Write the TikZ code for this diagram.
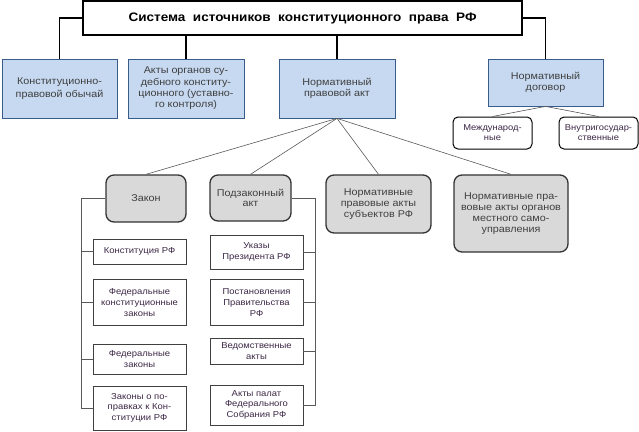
\documentclass[tikz,border=0pt]{standalone}
\usepackage{fontspec}
\setmainfont[FakeStretch=1.1]{Liberation Sans}
\usepackage{tikz}
\usetikzlibrary{positioning}
\definecolor{boxblue}{RGB}{198,217,241}
\definecolor{borderblue}{RGB}{56,93,138}
\definecolor{boxgrey}{RGB}{217,217,217}
\definecolor{textgrey}{RGB}{64,64,64}
\definecolor{textdark}{RGB}{60,40,70}
\definecolor{linegrey}{RGB}{89,89,89}
\tikzstyle{titlebox} = [rectangle, minimum width=439pt, minimum height=34pt, text centered, draw=black, line width=2.2pt, fill=white, font=\fontsize{12.3}{14}\selectfont\bfseries]
\tikzstyle{kind} = [rectangle, minimum height=59pt, align=center, draw=borderblue, fill=boxblue, text=textgrey, line width=0.8pt, font=\fontsize{9.8}{11.3}\selectfont]
\tikzstyle{group} = [rectangle, rounded corners=8pt, align=center, draw=black!80, fill=boxgrey, text=textgrey, line width=1.3pt, font=\fontsize{9.8}{10.8}\selectfont]
\tikzstyle{treaty} = [rectangle, rounded corners=5pt, minimum width=79pt, minimum height=32pt, align=center, draw=black, fill=white, text=textdark, line width=1pt, inner sep=2pt, font=\fontsize{8.5}{10}\selectfont]
\tikzstyle{act} = [rectangle, minimum width=93pt, align=center, draw=textgrey, fill=white, text=textdark, line width=0.6pt, inner sep=2pt, font=\fontsize{8.6}{10.8}\selectfont]
\tikzstyle{trunk} = [draw=black, line width=1.6pt]
\tikzstyle{branch} = [draw=linegrey, line width=0.6pt]
\tikzset{
  font={\fontsize{9}{10.5}\selectfont}}

\begin{document}
\begin{tikzpicture}[x=1pt, y=-1pt]
    \useasboundingbox (0,0) rectangle (639,431);

    \node (title) [titlebox] at (302.5,18) {Система~ источников~ конституционного~ права~ РФ};

    \node (obychai) [kind, minimum width=115pt, font=\fontsize{9.8}{13}\selectfont] at (59.5,88.5) {Конституционно-\\правовой обычай};
    \node (sudakty) [kind, minimum width=116pt] at (186,88.5) {Акты органов су-\\дебного конститу-\\ционного (уставно-\\го контроля)};
    \node (npa) [kind, minimum width=116pt] at (337,88.5) {Нормативный\\правовой акт};
    \node (dogovor) [kind, minimum width=115pt, minimum height=47pt] at (545.5,82.5) {Нормативный\\договор};

    \node (mezhd) [treaty] at (492.5,133) {Международ-\\ные};
    \node (vnutri) [treaty] at (598.5,133) {Внутригосудар-\\ственные};

    \node (zakon) [group, minimum width=80pt, minimum height=47pt] at (146,198.5) {Закон};
    \node (podzakon) [group, minimum width=81pt, minimum height=46pt] at (250.5,198) {Подзаконный\\акт};
    \node (subekty) [group, minimum width=105pt, minimum height=58pt] at (378.5,204) {Нормативные\\правовые акты\\субъектов РФ};
    \node (mestnye) [group, minimum width=114pt, minimum height=77pt] at (511,213.5) {Нормативные пра-\\вовые акты органов\\местного само-\\управления};

    % children of Закон
    \node (konst) [act, minimum height=25pt] at (139.5,251.5) {Конституция РФ};
    \node (fkz) [act, minimum height=46pt, below=15pt of konst] {Федеральные\\конституционные\\законы};
    \node (fz) [act, minimum height=30pt, below=18pt of fkz] {Федеральные\\законы};
    \node (popravki) [act, minimum height=44pt, below=11pt of fz] {Законы о по-\\правках к Кон-\\ституции РФ};

    % children of Подзаконный акт
    \node (ukazy) [act, minimum height=34pt] at (256.5,252) {Указы\\Президента РФ};
    \node (postan) [act, minimum height=46pt, below=10pt of ukazy] {Постановления\\Правительства\\РФ};
    \node (vedom) [act, minimum height=26pt, below=12pt of postan] {Ведомственные\\акты};
    \node (palaty) [act, minimum height=40pt, below=20pt of vedom] {Акты палат\\Федерального\\Собрания РФ};

    \coordinate (zbus) at (81,0);
    \coordinate (pbus) at (315,0);

    \draw [trunk] (title.west) -| (obychai.north);
    \draw [trunk] (title.east) -| (dogovor.north);
    \draw [trunk] (sudakty.north |- title.south) -- (sudakty.north);
    \draw [trunk] (npa.north |- title.south) -- (npa.north);

    \draw [branch] (dogovor.south) -- (mezhd.north);
    \draw [branch] (dogovor.south) -- (vnutri.north);
    \foreach \n in {zakon, podzakon, subekty, mestnye}
        \draw [branch] (npa.south) -- (\n.north);

    \draw [branch] (zakon.west) -| (zbus |- popravki.west) -- (popravki.west);
    \foreach \n in {konst, fkz, fz}
        \draw [branch] (\n.west) -- (\n.west -| zbus);
    \draw [branch] (podzakon.east) -| (pbus |- palaty.east) -- (palaty.east);
    \foreach \n in {ukazy, postan, vedom}
        \draw [branch] (\n.east) -- (\n.east -| pbus);
\end{tikzpicture}
\end{document}
